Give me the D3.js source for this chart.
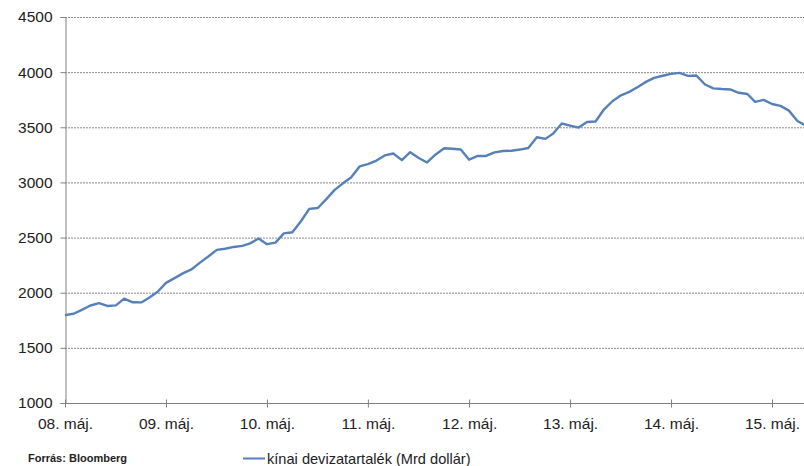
<!DOCTYPE html>
<html>
<head>
<meta charset="utf-8">
<script src="https://cdn.jsdelivr.net/npm/d3@7/dist/d3.min.js"></script>
<style>
  html, body { margin: 0; padding: 0; background: #fff; }
  svg { display: block; font-family: "Liberation Sans", Arial, sans-serif; }
</style>
</head>
<body>
<svg id="chart" width="804" height="466"></svg>
<script>
// Monthly values, May 2008 - Sep 2015 (billion USD)
const startMonth = "2008-05";
const values2008 = [1797, 1809, 1845, 1884, 1906, 1880, 1885, 1946];
const values2009 = [1913, 1912, 1954, 2009, 2089, 2132, 2175, 2211, 2273, 2328, 2388, 2399];
const values2010 = [2415, 2425, 2447, 2491, 2440, 2454, 2538, 2548, 2648, 2760, 2768, 2847];
const values2011 = [2932, 2994, 3045, 3145, 3166, 3198, 3245, 3262, 3202, 3274, 3221, 3181];
const values2012 = [3254, 3310, 3305, 3299, 3206, 3240, 3240, 3273, 3285, 3287, 3298, 3312];
const values2013 = [3410, 3395, 3443, 3534, 3515, 3497, 3548, 3553, 3663, 3736, 3790, 3821];
const values2014 = [3866, 3914, 3948, 3967, 3984, 3993, 3966, 3969, 3888, 3853, 3847, 3843];
const values2015 = [3813, 3802, 3730, 3748, 3711, 3694, 3651, 3557, 3514];
const seriesName = "kínai devizatartalék (Mrd dollár)";
const tickYears = [2008, 2009, 2010, 2011, 2012, 2013, 2014, 2015];
const tickLabels = ["08. máj.", "09. máj.", "10. máj.", "11. máj.", "12. máj.", "13. máj.", "14. máj.", "15. máj."];
const yTicks = [1000, 1500, 2000, 2500, 3000, 3500, 4000, 4500];
const sourceText = "Forrás: Bloomberg";

(function () {
const values = [].concat(values2008, values2009, values2010, values2011, values2012, values2013, values2014, values2015);
const parse = d3.timeParse("%Y-%m");
const start = parse(startMonth);
const data = values.map((v, i) => ({ date: d3.timeMonth.offset(start, i), value: v }));

const svg = d3.select("#chart");
const W = 804;
const mLeft = 65, mBottom = 403, mTop = 17;

const x = d3.scaleTime()
  .domain([new Date(2008, 4, 1), new Date(2015, 4, 1)])
  .range([65, 772]);
const y = d3.scaleLinear().domain([1000, 4500]).range([mBottom, mTop]);

// gridlines
svg.append("g").selectAll("line").data(yTicks.filter(d => d > 1000)).join("line")
  .attr("x1", mLeft).attr("x2", W)
  .attr("y1", d => y(d) + 0.5).attr("y2", d => y(d) + 0.5)
  .attr("stroke", "#8a8a8a").attr("stroke-width", 1)
  .attr("stroke-dasharray", "2,1");

// y axis
const yAxis = d3.axisLeft(y).tickValues(yTicks).tickSize(5).tickPadding(8).tickFormat(d3.format("d"));
const gy = svg.append("g").attr("transform", `translate(${mLeft + 0.5},0)`).call(yAxis);
gy.select(".domain").attr("stroke", "#808080");
gy.selectAll(".tick line").attr("stroke", "#808080");
gy.selectAll(".tick text").attr("font-size", "15.5px").attr("fill", "#222")
  .attr("font-family", "'Liberation Sans', Arial, sans-serif");

// x axis
const tickDates = tickYears.map(yr => new Date(yr, 4, 1));
const xAxis = d3.axisBottom(x).tickValues(tickDates).tickSize(4).tickPadding(10)
  .tickFormat((d, i) => tickLabels[i]);
const gx = svg.append("g").attr("transform", `translate(0,${mBottom + 0.5})`).call(xAxis);
gx.select(".domain").remove();
gx.append("line").attr("x1", mLeft).attr("x2", W).attr("y1", 0).attr("y2", 0).attr("stroke", "#808080");
gx.selectAll(".tick line").attr("stroke", "#808080").attr("y1", -4).attr("y2", 4);
gx.selectAll(".tick text").attr("font-size", "15.5px").attr("fill", "#222")
  .attr("font-family", "'Liberation Sans', Arial, sans-serif");

// line
const line = d3.line().x(d => x(d.date)).y(d => y(d.value));
svg.append("path").datum(data)
  .attr("d", line)
  .attr("fill", "none")
  .attr("stroke", "#5880b8")
  .attr("stroke-width", 2.4)
  .attr("stroke-linejoin", "round");

// source
svg.append("text").attr("x", 28).attr("y", 462)
  .attr("font-size", "11px").attr("font-weight", "bold").attr("fill", "#222")
  .text(sourceText);

// legend
svg.append("line").attr("x1", 243).attr("x2", 265).attr("y1", 458.5).attr("y2", 458.5)
  .attr("stroke", "#5880b8").attr("stroke-width", 2);
svg.append("text").attr("x", 267).attr("y", 464)
  .attr("font-size", "14.6px").attr("fill", "#222")
  .text(seriesName);
})();
</script>
</body>
</html>
